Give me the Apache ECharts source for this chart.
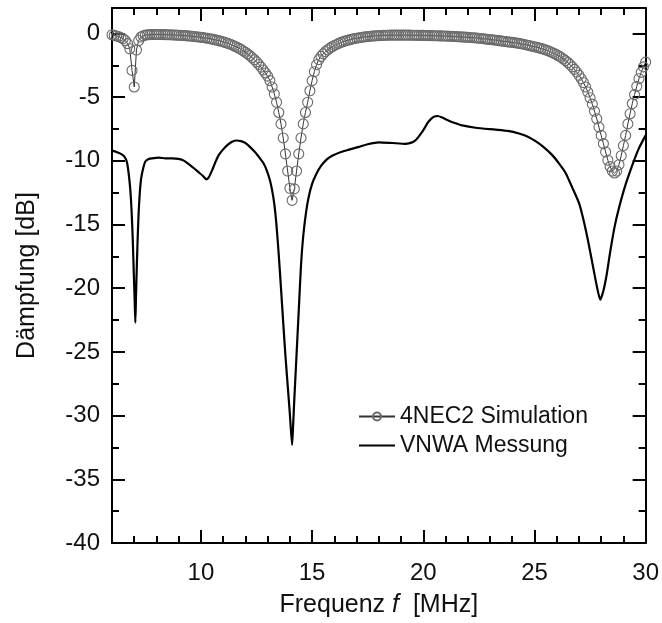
<!DOCTYPE html>
<html><head><meta charset="utf-8">
<script src="https://cdn.jsdelivr.net/npm/echarts@6/dist/echarts.min.js"></script>
<style>html,body{margin:0;padding:0;background:#fff}#c{width:662px;height:623px}</style>
</head><body><div id="c"></div>
<script>
// ---- data ----
const simFreqMHz = [
 6.0,6.1,6.2,6.3,6.4,6.5,6.6,6.7,6.8,6.9,
 7.0,7.1,7.2,7.3,7.4,7.5,7.6,7.7,7.8,7.9,
 8.0,8.1,8.2,8.3,8.4,8.5,8.6,8.7,8.8,8.9,
 9.0,9.1,9.2,9.3,9.4,9.5,9.6,9.7,9.8,9.9,
 10.0,10.1,10.2,10.3,10.4,10.5,10.6,10.7,10.8,10.9,
 11.0,11.1,11.2,11.3,11.4,11.5,11.6,11.7,11.8,11.9,
 12.0,12.1,12.2,12.3,12.4,12.5,12.6,12.7,12.8,12.9,
 13.0,13.1,13.2,13.3,13.4,13.5,13.6,13.7,13.8,13.9,
 14.0,14.1,14.2,14.3,14.4,14.5,14.6,14.7,14.8,14.9,
 15.0,15.1,15.2,15.3,15.4,15.5,15.6,15.7,15.8,15.9,
 16.0,16.1,16.2,16.3,16.4,16.5,16.6,16.7,16.8,16.9,
 17.0,17.1,17.2,17.3,17.4,17.5,17.6,17.7,17.8,17.9,
 18.0,18.1,18.2,18.3,18.4,18.5,18.6,18.7,18.8,18.9,
 19.0,19.1,19.2,19.3,19.4,19.5,19.6,19.7,19.8,19.9,
 20.0,20.1,20.2,20.3,20.4,20.5,20.6,20.7,20.8,20.9,
 21.0,21.1,21.2,21.3,21.4,21.5,21.6,21.7,21.8,21.9,
 22.0,22.1,22.2,22.3,22.4,22.5,22.6,22.7,22.8,22.9,
 23.0,23.1,23.2,23.3,23.4,23.5,23.6,23.7,23.8,23.9,
 24.0,24.1,24.2,24.3,24.4,24.5,24.6,24.7,24.8,24.9,
 25.0,25.1,25.2,25.3,25.4,25.5,25.6,25.7,25.8,25.9,
 26.0,26.1,26.2,26.3,26.4,26.5,26.6,26.7,26.8,26.9,
 27.0,27.1,27.2,27.3,27.4,27.5,27.6,27.7,27.8,27.9,
 28.0,28.1,28.2,28.3,28.4,28.5,28.6,28.7,28.8,28.9,
 29.0,29.1,29.2,29.3,29.4,29.5,29.6,29.7,29.8,29.9,
 30.0
];
const simDb = [
 -0.1,-0.15,-0.2,-0.25,-0.32,-0.4,-0.55,-0.8,-1.2,-2.9,
 -4.2,-1.3,-0.55,-0.28,-0.18,-0.13,-0.1,-0.09,-0.08,-0.08,
 -0.08,-0.08,-0.08,-0.09,-0.09,-0.1,-0.1,-0.11,-0.12,-0.13,
 -0.14,-0.15,-0.16,-0.17,-0.19,-0.2,-0.22,-0.24,-0.26,-0.28,
 -0.3,-0.32,-0.35,-0.38,-0.41,-0.44,-0.48,-0.52,-0.56,-0.61,
 -0.66,-0.71,-0.77,-0.83,-0.9,-0.98,-1.06,-1.15,-1.25,-1.36,
 -1.47,-1.6,-1.74,-1.89,-2.05,-2.23,-2.43,-2.64,-2.87,-3.1,
 -3.35,-3.7,-4.2,-4.75,-5.4,-6.2,-7.1,-8.2,-9.45,-10.8,
 -12.15,-13.1,-12.2,-10.8,-9.45,-8.2,-7.1,-6.2,-5.4,-4.5,
 -3.7,-3.0,-2.45,-2.05,-1.8,-1.6,-1.42,-1.28,-1.15,-1.04,
 -0.94,-0.86,-0.78,-0.7,-0.64,-0.58,-0.53,-0.48,-0.44,-0.4,
 -0.37,-0.34,-0.31,-0.28,-0.26,-0.24,-0.22,-0.2,-0.19,-0.18,
 -0.17,-0.16,-0.15,-0.14,-0.14,-0.13,-0.13,-0.13,-0.13,-0.13,
 -0.13,-0.13,-0.13,-0.13,-0.13,-0.14,-0.14,-0.14,-0.15,-0.15,
 -0.15,-0.16,-0.16,-0.17,-0.17,-0.18,-0.18,-0.19,-0.19,-0.2,
 -0.2,-0.21,-0.22,-0.23,-0.24,-0.25,-0.26,-0.27,-0.28,-0.29,
 -0.3,-0.31,-0.33,-0.34,-0.36,-0.37,-0.39,-0.41,-0.43,-0.45,
 -0.47,-0.49,-0.51,-0.53,-0.56,-0.58,-0.61,-0.63,-0.66,-0.68,
 -0.7,-0.72,-0.75,-0.78,-0.81,-0.84,-0.88,-0.92,-0.96,-1.0,
 -1.04,-1.08,-1.13,-1.18,-1.23,-1.29,-1.35,-1.42,-1.5,-1.58,
 -1.67,-1.77,-1.88,-2.0,-2.13,-2.28,-2.44,-2.62,-2.82,-3.04,
 -3.28,-3.55,-3.85,-4.2,-4.6,-5.05,-5.55,-6.1,-6.7,-7.35,
 -8.0,-8.65,-9.3,-9.95,-10.45,-10.8,-10.95,-10.8,-10.3,-9.6,
 -8.8,-8.0,-7.1,-6.3,-5.5,-4.8,-4.15,-3.55,-3.05,-2.62,
 -2.25
];
const measFreqMHz = [
 6.0,6.2,6.4,6.55,6.67,6.75,6.82,6.88,6.93,6.98,7.02,7.05,7.08,7.12,7.16,7.2,7.25,7.31,7.4,7.5,
 7.65,7.8,8.1,8.4,8.7,9.0,9.25,9.45,9.7,9.9,10.1,10.25,10.35,10.5,10.65,10.8,11.0,11.2,11.4,11.6,
 11.8,12.0,12.2,12.45,12.65,12.8,12.95,13.1,13.2,13.3,13.4,13.5,13.6,13.7,13.8,13.9,14.0,14.1,14.15,14.2,
 14.3,14.4,14.5,14.6,14.73,14.85,15.0,15.2,15.4,15.65,15.9,16.3,16.7,17.1,17.5,18.0,18.6,19.2,19.5,19.7,
 19.9,20.05,20.2,20.35,20.5,20.65,20.85,21.15,21.45,21.75,22.35,23.25,23.8,24.3,24.7,25.05,25.4,25.8,26.1,26.4,
 26.7,27.0,27.2,27.4,27.6,27.8,27.96,28.1,28.25,28.4,28.6,28.8,29.1,29.45,29.7,30.0
];
const measDb = [
 -9.2,-9.3,-9.45,-9.65,-10.1,-11.0,-12.2,-13.9,-16.0,-18.8,-21.0,-22.7,-20.6,-18.0,-15.8,-14.0,-12.5,-11.4,-10.6,-10.05,
 -9.85,-9.8,-9.75,-9.8,-9.8,-9.85,-10.0,-10.25,-10.6,-10.9,-11.2,-11.45,-11.3,-10.75,-10.1,-9.55,-9.1,-8.75,-8.5,-8.4,
 -8.45,-8.6,-8.9,-9.35,-9.8,-10.15,-10.7,-11.5,-12.3,-13.4,-15.1,-17.4,-20.0,-22.7,-25.3,-27.6,-29.9,-32.3,-30.6,-28.7,
 -25.2,-21.7,-18.2,-15.9,-14.0,-12.8,-11.8,-11.0,-10.4,-9.9,-9.6,-9.3,-9.1,-8.9,-8.7,-8.55,-8.6,-8.66,-8.55,-8.3,
 -7.85,-7.45,-7.0,-6.7,-6.52,-6.48,-6.6,-6.85,-7.05,-7.22,-7.4,-7.55,-7.65,-7.85,-8.1,-8.45,-8.9,-9.55,-10.2,-10.95,
 -12.1,-13.3,-14.6,-16.2,-18.0,-19.8,-20.9,-20.2,-18.9,-17.2,-15.2,-13.7,-11.85,-10.1,-9.0,-8.0
];
const xLabelTicks = [10, 15, 20, 25, 30];
const xMajorTicks = [10, 15, 20, 25];
const xMinorTicks = [7,8,9,11,12,13,14,16,17,18,19,21,22,23,24,26,27,28,29];
const yLabelTicks = [-40,-35,-30,-25,-20,-15,-10,-5,0];
const yMajorTicks = [-35,-30,-25,-20,-15,-10,-5,0];
const yMinorTicks = [-37.5,-32.5,-27.5,-22.5,-17.5,-12.5,-7.5,-2.5];

// ---- chart ----
const FONT = '"Liberation Sans", Arial, sans-serif';
const TXT = '#111';
const X_MIN = 6, X_MAX = 30, Y_MIN = -40, Y_MAX = 2;

function tickAxis(kind, pos, ticks, len, showLine) {
  return {
    type: 'value', position: pos,
    min: kind === 'x' ? X_MIN : Y_MIN, max: kind === 'x' ? X_MAX : Y_MAX,
    axisLine: { show: showLine, onZero: false, lineStyle: { color: '#000', width: 2 } },
    axisTick: { show: true, inside: true, length: len, customValues: ticks, lineStyle: { color: '#000', width: 2 } },
    axisLabel: { show: false },
    splitLine: { show: false },
    minorTick: { show: false }
  };
}

const xMain = tickAxis('x', 'bottom', xMajorTicks, 13, true);
xMain.axisLabel = { show: true, customValues: xLabelTicks, fontSize: 24, color: TXT, fontFamily: FONT, margin: 18 };
xMain.name = 'Frequenz {i|f}  [MHz]';
xMain.nameLocation = 'middle';
xMain.nameGap = 50;
xMain.nameTextStyle = { fontSize: 25, color: TXT, fontFamily: FONT,
  rich: { i: { fontSize: 25, fontStyle: 'italic', color: TXT, fontFamily: FONT } } };

const yMain = tickAxis('y', 'left', yMajorTicks, 13, true);
yMain.axisLabel = { show: true, customValues: yLabelTicks, fontSize: 24, color: TXT, fontFamily: FONT, margin: 12 };
yMain.name = 'Dämpfung [dB]';
yMain.nameLocation = 'middle';
yMain.nameGap = 72;
yMain.nameRotate = 90;
yMain.nameTextStyle = { fontSize: 25, color: TXT, fontFamily: FONT };

const option = {
  animation: false,
  backgroundColor: '#fff',
  grid: { left: 112, right: 15, top: 8, bottom: 80, containLabel: false },
  xAxis: [
    xMain,
    tickAxis('x', 'bottom', xMinorTicks, 7, false),
    tickAxis('x', 'top', xMajorTicks, 13, true),
    tickAxis('x', 'top', xMinorTicks, 7, false)
  ],
  yAxis: [
    yMain,
    tickAxis('y', 'left', yMinorTicks, 7, false),
    tickAxis('y', 'right', yMajorTicks, 13, true),
    tickAxis('y', 'right', yMinorTicks, 7, false)
  ],
  legend: {
    orient: 'vertical', left: 353, top: 400,
    itemWidth: 36, itemHeight: 10, itemGap: 6,
    textStyle: { fontSize: 23, color: TXT, fontFamily: FONT },
    data: [
      { name: '4NEC2 Simulation' },
      { name: 'VNWA Messung', itemStyle: { color: 'rgba(0,0,0,0)', borderWidth: 0, opacity: 0 } }
    ]
  },
  series: [
    {
      name: 'VNWA Messung', type: 'line', xAxisIndex: 0, yAxisIndex: 0,
      data: measFreqMHz.map((f, i) => [f, measDb[i]]),
      symbol: 'none', smooth: 0.2,
      lineStyle: { color: '#000', width: 2.2 },
      itemStyle: { color: '#000' },
      z: 2
    },
    {
      name: '4NEC2 Simulation', type: 'line', xAxisIndex: 0, yAxisIndex: 0,
      data: simFreqMHz.map((f, i) => [f, simDb[i]]),
      symbol: 'circle', symbolSize: 10, showAllSymbol: true,
      itemStyle: { color: 'rgba(255,255,255,0)', borderColor: '#6a6a6a', borderWidth: 1.1 },
      lineStyle: { color: '#333', width: 1 },
      z: 3
    }
  ]
};
const chart = echarts.init(document.getElementById('c'), null, { renderer: 'canvas' });
chart.setOption(option);
</script></body></html>
